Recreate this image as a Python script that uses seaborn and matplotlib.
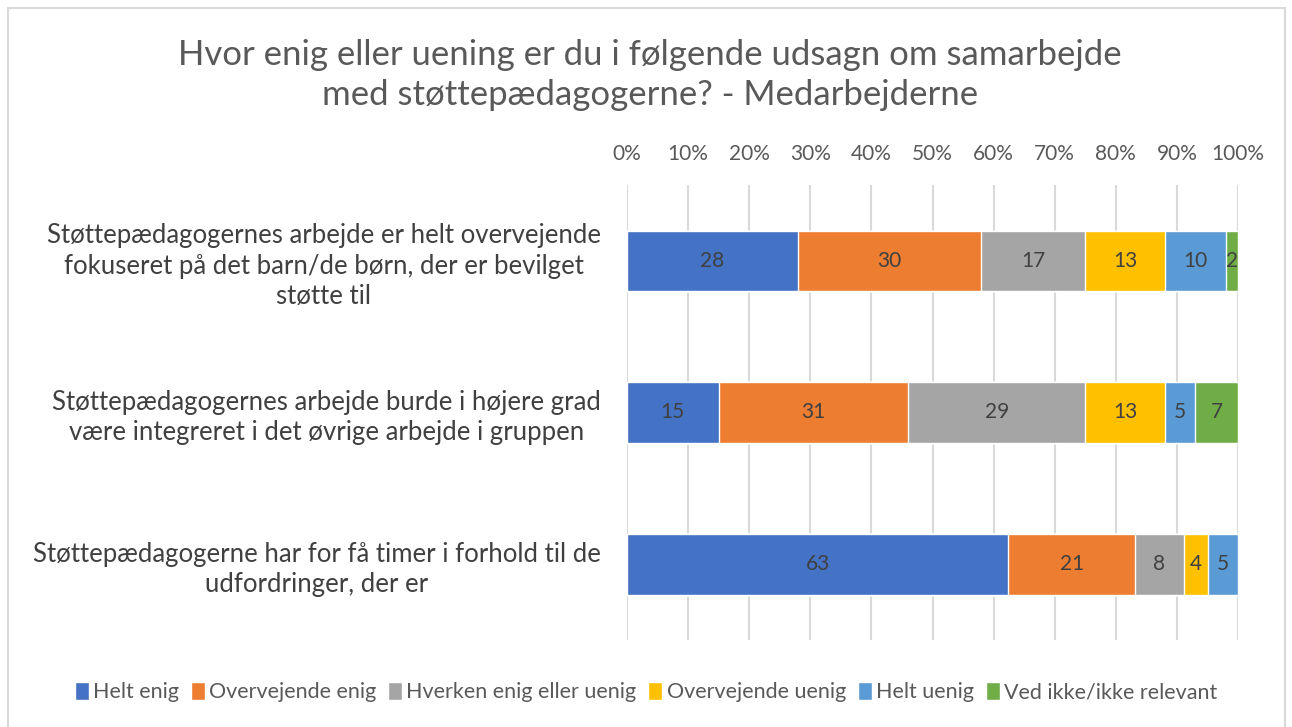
import matplotlib
matplotlib.use('Agg')
import matplotlib.pyplot as plt
from matplotlib.patches import Patch, Rectangle
import numpy as np
import pandas as pd
import seaborn as sns

questions = [
    'Støttepædagogernes arbejde er helt overvejende\nfokuseret på det barn/de børn, der er bevilget\nstøtte til',
    'Støttepædagogernes arbejde burde i højere grad\nvære integreret i det øvrige arbejde i gruppen',
    'Støttepædagogerne har for få timer i forhold til de\nudfordringer, der er',
]
answers = ['Helt enig', 'Overvejende enig', 'Hverken enig eller uenig',
           'Overvejende uenig', 'Helt uenig', 'Ved ikke/ikke relevant']
helt_enig = [28, 15, 63]
overvejende_enig = [30, 31, 21]
hverken = [17, 29, 8]
overvejende_uenig = [13, 13, 4]
helt_uenig = [10, 5, 5]
ved_ikke = [2, 7, 0]
colors = ['#4472C4', '#ED7D31', '#A5A5A5', '#FFC000', '#5B9BD5', '#70AD47']

sns.set_style('white')
plt.rcParams['font.family'] = ['Lato', 'DejaVu Sans']

vals = np.array([helt_enig, overvejende_enig, hverken, overvejende_uenig, helt_uenig, ved_ikke], dtype=float)
pct = vals / vals.sum(axis=0) * 100
cum = pct.cumsum(axis=0)

fig = plt.figure(figsize=(12.92, 7.27), dpi=100)
ax = fig.add_axes([627/1292, 1 - 640/727, (1238 - 627)/1292, (640 - 185)/727])

# stacked bars: draw cumulative totals from the last answer backwards
for i in range(len(answers) - 1, -1, -1):
    df = pd.DataFrame({'q': questions, 'v': cum[i]})
    sns.barplot(data=df, x='v', y='q', orient='h', color=colors[i],
                saturation=1, width=0.4, ax=ax, zorder=3)

for i in range(len(answers)):
    for j in range(len(questions)):
        if vals[i, j] > 0:
            mid = cum[i, j] - pct[i, j] / 2
            ax.text(mid, j, f'{int(vals[i, j])}', ha='center', va='center',
                    fontsize=15, color='#404040', zorder=4)

ax.set_xlim(0, 100)
ax.set_ylim(2.5, -0.5)
ax.set_xticks(np.arange(0, 101, 10))
ax.set_xticklabels([f'{t}%' for t in range(0, 101, 10)])
ax.xaxis.tick_top()
ax.tick_params(axis='x', length=0, pad=15, labelsize=15, labelcolor='#595959')
ax.tick_params(axis='y', length=0, pad=19, labelsize=18.5, labelcolor='#404040')
for lab in ax.get_yticklabels():
    lab.set_multialignment('center')
    lab.set_linespacing(1.27)
ax.set_xlabel('')
ax.set_ylabel('')
ax.grid(axis='x', color='#D9D9D9', lw=1.5, zorder=0)
ax.set_axisbelow(True)
for s in ax.spines.values():
    s.set_visible(False)

fig.text(0.503, 1 - 75/727, 'Hvor enig eller uening er du i følgende udsagn om samarbejde\nmed støttepædagogerne? - Medarbejderne',
         ha='center', va='center', fontsize=25, color='#595959', linespacing=1.3)

handles = [Patch(facecolor=c, label=a) for c, a in zip(colors, answers)]
fig.legend(handles=handles, loc='center', bbox_to_anchor=(0.5, 1 - 692/727), ncol=6,
           frameon=False, fontsize=15.5, handlelength=0.65, handleheight=0.9,
           handletextpad=0.2, columnspacing=0.55, labelcolor='#595959')

fig.patches.append(Rectangle((8/1292, -0.02), (1285 - 8)/1292, 1.02 - 8/727,
                             transform=fig.transFigure, fill=False,
                             edgecolor='#D9D9D9', lw=1.5))

fig.savefig('out.png', dpi=100)
